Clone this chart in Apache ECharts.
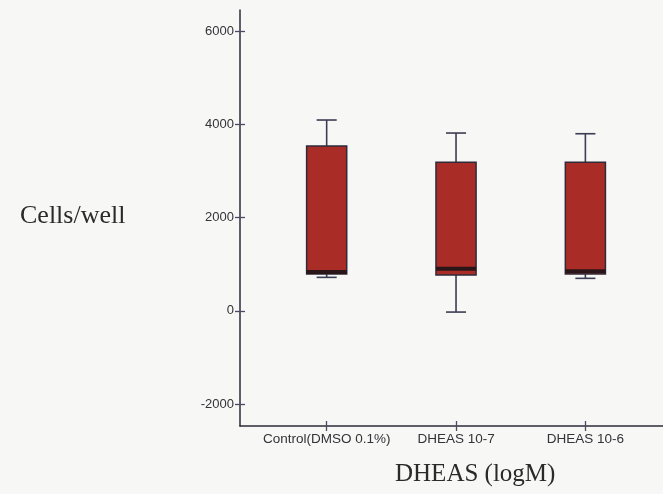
<!DOCTYPE html>
<html>
<head>
<meta charset="utf-8">
<script src="https://cdn.jsdelivr.net/npm/echarts@6/dist/echarts.min.js"></script>
<style>
  html, body { margin: 0; padding: 0; background: #f7f7f6; }
  #chart { width: 663px; height: 494px; }
</style>
</head>
<body>
<div id="chart"></div>
<script>
// Groups shown along the x axis
const categories = ['Control(DMSO 0.1%)', 'DHEAS 10-7', 'DHEAS 10-6'];
// Box statistics per group (cells/well)
const lowWhisker = [717, -27, 696];
const q1 = [788, 767, 788];
const median = [831, 902, 846];
const q3 = [3534, 3184, 3184];
const highWhisker = [4091, 3812, 3797];
// Y axis tick values
const yTicks = [-2000, 0, 2000, 4000, 6000];

const positions = categories.map((c, i) => i + 1);
const boxData = categories.map((c, i) => [positions[i], lowWhisker[i], q1[i], median[i], q3[i], highWhisker[i]]);

const lineColor = '#2e2b3a';
const tickColor = '#4a4a66';
const boxFill = '#aa2c26';

function renderBox(params, api) {
  const x = api.value(0);
  const pLo = api.coord([x, api.value(1)]);
  const pQ1 = api.coord([x, api.value(2)]);
  const pMed = api.coord([x, api.value(3)]);
  const pQ3 = api.coord([x, api.value(4)]);
  const pHi = api.coord([x, api.value(5)]);
  const w = api.size([0.31, 0])[0];
  const cx = pMed[0];
  const cap = w / 4;
  const whiskerStyle = { stroke: '#3c3c52', lineWidth: 1.6 };
  return {
    type: 'group',
    children: [
      { type: 'line', shape: { x1: cx, y1: pQ3[1], x2: cx, y2: pHi[1] }, style: whiskerStyle },
      { type: 'line', shape: { x1: cx - cap, y1: pHi[1], x2: cx + cap, y2: pHi[1] }, style: whiskerStyle },
      { type: 'line', shape: { x1: cx, y1: pQ1[1], x2: cx, y2: pLo[1] }, style: whiskerStyle },
      { type: 'line', shape: { x1: cx - cap, y1: pLo[1], x2: cx + cap, y2: pLo[1] }, style: whiskerStyle },
      {
        type: 'rect',
        shape: { x: cx - w / 2, y: pQ3[1], width: w, height: pQ1[1] - pQ3[1] },
        style: { fill: boxFill, stroke: lineColor, lineWidth: 1.5 }
      },
      {
        type: 'rect',
        shape: { x: cx - w / 2, y: pMed[1] - 2, width: w, height: 4 },
        style: { fill: '#2a1618' }
      }
    ]
  };
}

const chart = echarts.init(document.getElementById('chart'), null, { renderer: 'canvas' });

const baseX = {
  type: 'value',
  min: 0.33,
  max: 3.6,
  splitLine: { show: false },
  axisLine: { show: false, onZero: false }
};
const baseY = {
  type: 'value',
  min: -2470,
  max: 6450,
  splitLine: { show: false },
  axisLine: { show: false, onZero: false }
};

chart.setOption({
  backgroundColor: '#f7f7f6',
  animation: false,
  grid: { left: 240, right: 0, top: 10, bottom: 68 },
  xAxis: [
    Object.assign({}, baseX, {
      axisLine: { show: true, onZero: false, lineStyle: { color: lineColor, width: 1.5 } },
      axisTick: { show: true, length: 5, customValues: positions, lineStyle: { color: tickColor, width: 1.3 } },
      axisLabel: {
        customValues: positions,
        margin: 6,
        fontFamily: 'Liberation Sans',
        fontSize: 13.5,
        color: '#333338',
        formatter: v => categories[Math.round(v) - 1]
      }
    }),
    Object.assign({}, baseX, {
      position: 'bottom',
      axisTick: { show: true, inside: true, length: 5, customValues: positions, lineStyle: { color: tickColor, width: 1.3 } },
      axisLabel: { show: false }
    })
  ],
  yAxis: [
    Object.assign({}, baseY, {
      axisLine: { show: true, onZero: false, lineStyle: { color: lineColor, width: 1.5 } },
      axisTick: { show: true, length: 5, customValues: yTicks, lineStyle: { color: tickColor, width: 1.3 } },
      axisLabel: {
        customValues: yTicks,
        margin: 6,
        fontFamily: 'Liberation Sans',
        fontSize: 13,
        color: '#333338',
        formatter: v => String(v)
      }
    }),
    Object.assign({}, baseY, {
      position: 'left',
      axisTick: { show: true, inside: true, length: 5, customValues: yTicks, lineStyle: { color: tickColor, width: 1.3 } },
      axisLabel: { show: false }
    })
  ],
  series: [{
    type: 'custom',
    xAxisIndex: 0,
    yAxisIndex: 0,
    renderItem: renderBox,
    encode: { x: 0, y: [1, 2, 3, 4, 5] },
    data: boxData
  }],
  graphic: [
    {
      type: 'text',
      left: 20,
      top: 203,
      style: { text: 'Cells/well', fontFamily: 'Liberation Serif', fontSize: 26, fill: '#2a2a2a' }
    },
    {
      type: 'text',
      left: 395,
      top: 462,
      style: { text: 'DHEAS (logM)', fontFamily: 'Liberation Serif', fontSize: 25, fill: '#2a2a2a' }
    }
  ]
});
</script>
</body>
</html>
